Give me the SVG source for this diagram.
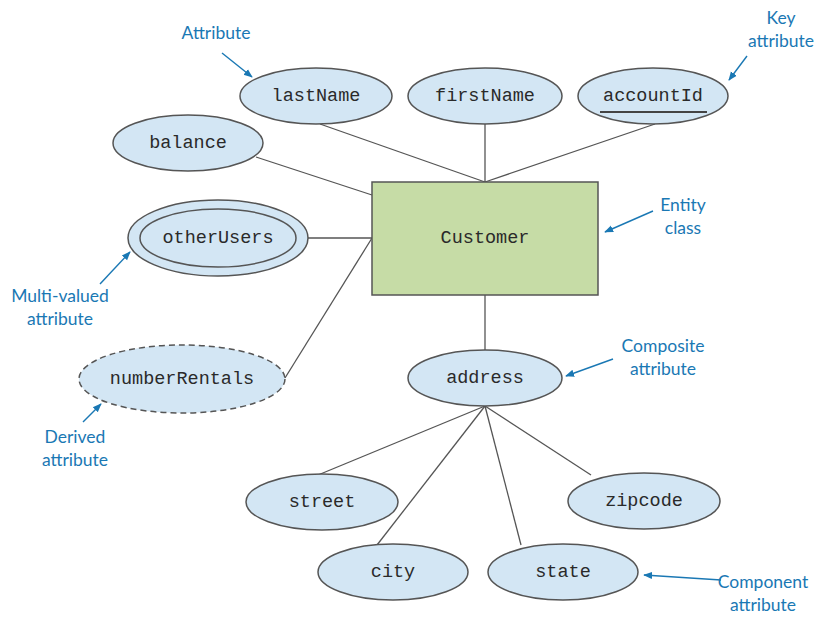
<svg xmlns="http://www.w3.org/2000/svg" width="831" height="620" viewBox="0 0 831 620">
<defs>
<marker id="ah" viewBox="0 0 10 10" refX="9" refY="5" markerWidth="9" markerHeight="9" orient="auto" markerUnits="userSpaceOnUse">
<path d="M0,1 L10,5 L0,9 z" fill="#1a78b4"/>
</marker>
</defs>
<style>
.attr{fill:#d3e6f4;stroke:#555;stroke-width:1.5}
.dash{stroke-dasharray:6,4}
.mono{font-family:"Liberation Mono","Courier New",monospace;font-size:18.5px;fill:#2a2a2a;text-anchor:middle;dominant-baseline:central}
.ann{font-family:Lato,"Liberation Sans",sans-serif;font-size:17.5px;fill:#1a78b4;text-anchor:middle}
.conn{stroke:#555;stroke-width:1.3;fill:none}
.arr{stroke:#1a78b4;stroke-width:1.4;fill:none;marker-end:url(#ah)}
</style>
<rect width="831" height="620" fill="#fff"/>
<g id="connectors">
<line class="conn" x1="320" y1="124" x2="485" y2="182"/>
<line class="conn" x1="485" y1="124" x2="485" y2="182"/>
<line class="conn" x1="655" y1="124" x2="485" y2="182"/>
<line class="conn" x1="256" y1="157" x2="372" y2="195"/>
<line class="conn" x1="308" y1="238" x2="372" y2="238"/>
<line class="conn" x1="285" y1="378" x2="372" y2="238"/>
<line class="conn" x1="485" y1="295" x2="485" y2="350"/>
<line class="conn" x1="485" y1="406" x2="318" y2="475"/>
<line class="conn" x1="485" y1="406" x2="377" y2="545"/>
<line class="conn" x1="485" y1="406" x2="521" y2="545"/>
<line class="conn" x1="485" y1="406" x2="591" y2="475"/>
</g>
<g id="customer">
<rect x="372" y="182" width="226" height="113" fill="#c6dca6" stroke="#555" stroke-width="1.5"/>
<text class="mono" x="485" y="238">Customer</text>
</g>
<g id="lastName">
<ellipse class="attr" cx="316" cy="96" rx="76" ry="28"/>
<text class="mono" x="316" y="96">lastName</text>
</g>
<g id="firstName">
<ellipse class="attr" cx="485" cy="96" rx="77" ry="28"/>
<text class="mono" x="485" y="96">firstName</text>
</g>
<g id="accountId">
<ellipse class="attr" cx="653" cy="96" rx="75" ry="28"/>
<text class="mono" x="653" y="96">accountId</text>
<line x1="600" y1="112" x2="707" y2="112" stroke="#444" stroke-width="1.8"/>
</g>
<g id="balance">
<ellipse class="attr" cx="188" cy="143" rx="75" ry="28"/>
<text class="mono" x="188" y="143">balance</text>
</g>
<g id="otherUsers">
<ellipse class="attr" cx="218" cy="238" rx="90" ry="38"/>
<ellipse class="attr" cx="218" cy="238" rx="78" ry="29"/>
<text class="mono" x="218" y="238">otherUsers</text>
</g>
<g id="numberRentals">
<ellipse class="attr dash" cx="182" cy="379" rx="103" ry="34"/>
<text class="mono" x="182" y="379">numberRentals</text>
</g>
<g id="address">
<ellipse class="attr" cx="485" cy="378" rx="77" ry="28"/>
<text class="mono" x="485" y="378">address</text>
</g>
<g id="street">
<ellipse class="attr" cx="322" cy="502" rx="76" ry="28"/>
<text class="mono" x="322" y="502">street</text>
</g>
<g id="zipcode">
<ellipse class="attr" cx="644" cy="501" rx="76" ry="28"/>
<text class="mono" x="644" y="501">zipcode</text>
</g>
<g id="city">
<ellipse class="attr" cx="393" cy="572" rx="75" ry="28"/>
<text class="mono" x="393" y="572">city</text>
</g>
<g id="state">
<ellipse class="attr" cx="563" cy="572" rx="75" ry="28"/>
<text class="mono" x="563" y="572">state</text>
</g>
<g id="annotations">
<text class="ann" x="216" y="39">Attribute</text>
<line class="arr" x1="222" y1="53" x2="252" y2="77"/>
<text class="ann" x="781" y="24">Key</text>
<text class="ann" x="781" y="47">attribute</text>
<line class="arr" x1="747" y1="56" x2="729" y2="80"/>
<text class="ann" x="683" y="211">Entity</text>
<text class="ann" x="683" y="234">class</text>
<line class="arr" x1="653" y1="211" x2="605" y2="232"/>
<text class="ann" x="60" y="302">Multi-valued</text>
<text class="ann" x="60" y="325">attribute</text>
<line class="arr" x1="100" y1="284" x2="130" y2="252"/>
<text class="ann" x="75" y="443">Derived</text>
<text class="ann" x="75" y="466">attribute</text>
<line class="arr" x1="83" y1="422" x2="101" y2="404"/>
<text class="ann" x="663" y="352">Composite</text>
<text class="ann" x="663" y="375">attribute</text>
<line class="arr" x1="613" y1="359" x2="566" y2="376"/>
<text class="ann" x="763" y="588">Component</text>
<text class="ann" x="763" y="611">attribute</text>
<line class="arr" x1="721" y1="580" x2="644" y2="575"/>
</g>
</svg>
